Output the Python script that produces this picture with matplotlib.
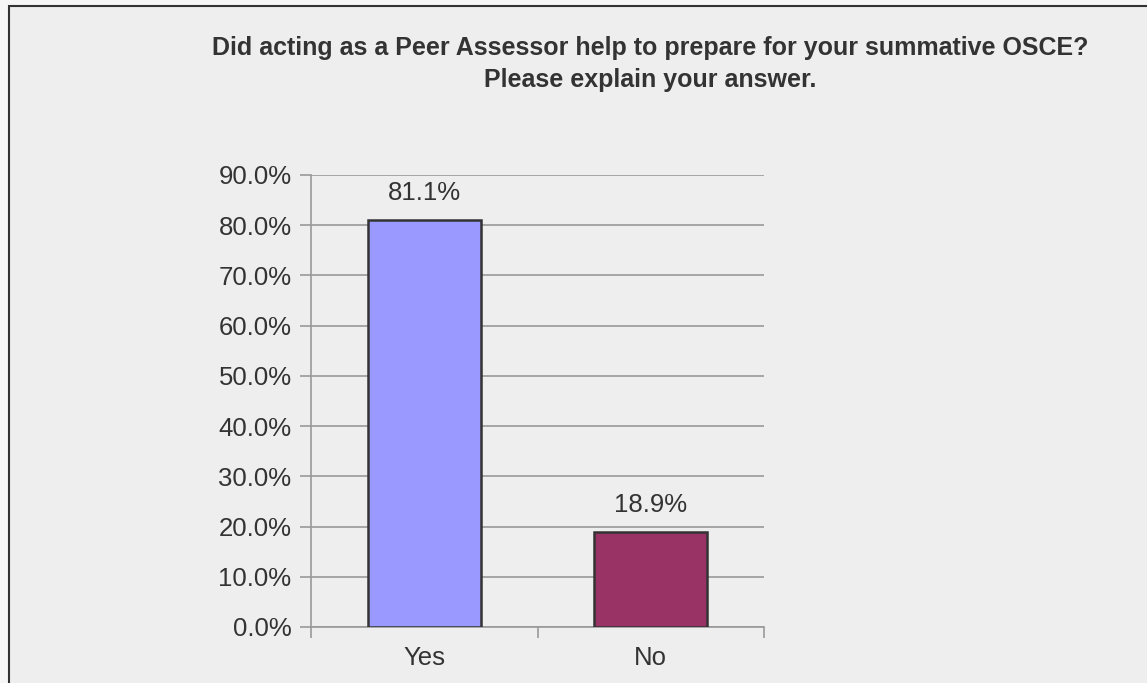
import matplotlib
matplotlib.use("Agg")
import matplotlib.pyplot as plt
from matplotlib.patches import Rectangle
from matplotlib.ticker import FuncFormatter, MultipleLocator

categories = ["Yes", "No"]
shares = [81.1, 18.9]
bar_colors = ["#9999FF", "#993366"]
title_lines = ["Did acting as a Peer Assessor help to prepare for your summative OSCE?",
               "Please explain your answer."]

plt.rcParams["font.family"] = ["Liberation Sans", "DejaVu Sans"]

W, H = 1147, 683
fig = plt.figure(figsize=(W / 100, H / 100), dpi=100, facecolor="#f6f6f6")

# chart area panel with a dark frame on the top and left
panel = Rectangle((9 / W, -0.05), 1.1, 1 - 6 / H + 0.05, transform=fig.transFigure,
                  facecolor="#eeeeee", edgecolor="#333333", linewidth=1.5, zorder=-5)
fig.patches.append(panel)

ax = fig.add_axes([311 / W, 1 - 627 / H, (764 - 311) / W, (627 - 175) / H])
ax.set_facecolor("none")
ax.set_zorder(2)

label_size = 18.5

x = list(range(len(categories)))
bars = ax.bar(x, shares, width=0.5, color=bar_colors, edgecolor="#333333",
              linewidth=1.8, zorder=3)

for xi, v in zip(x, shares):
    ax.text(xi, v + 3.0, f"{v:.1f}%", ha="center", va="bottom",
            fontsize=label_size, color="#333333")

ax.set_xlim(-0.5, len(categories) - 0.5)
ax.set_ylim(0, 90)
ax.yaxis.set_major_locator(MultipleLocator(10))
ax.yaxis.set_major_formatter(FuncFormatter(lambda v, p: f"{v:.1f}%"))
ax.grid(axis="y", color="#999999", linewidth=1.2, zorder=1)
ax.set_axisbelow(True)

ax.set_xticks([-0.5, 0.5, 1.5], minor=False)
ax.set_xticklabels([])
ax.set_xticks(x, minor=True)
ax.set_xticklabels(categories, minor=True)
ax.tick_params(axis="x", which="major", length=8, width=1.2, color="#999999", direction="out")
ax.tick_params(axis="x", which="minor", length=0, pad=14, labelsize=label_size,
               labelcolor="#333333")
ax.tick_params(axis="y", length=8, width=1.2, color="#999999", labelsize=label_size,
               labelcolor="#333333", pad=6)

for s in ["top", "right"]:
    ax.spines[s].set_visible(False)
for s in ["left", "bottom"]:
    ax.spines[s].set_color("#999999")
    ax.spines[s].set_linewidth(1.2)

fig.text(650 / W, 1 - 48 / H, title_lines[0], ha="center", va="center",
         fontsize=18, fontweight="bold", color="#333333")
fig.text(650 / W, 1 - 80 / H, title_lines[1], ha="center", va="center",
         fontsize=18, fontweight="bold", color="#333333")

fig.savefig("out.png", dpi=100, facecolor=fig.get_facecolor())
